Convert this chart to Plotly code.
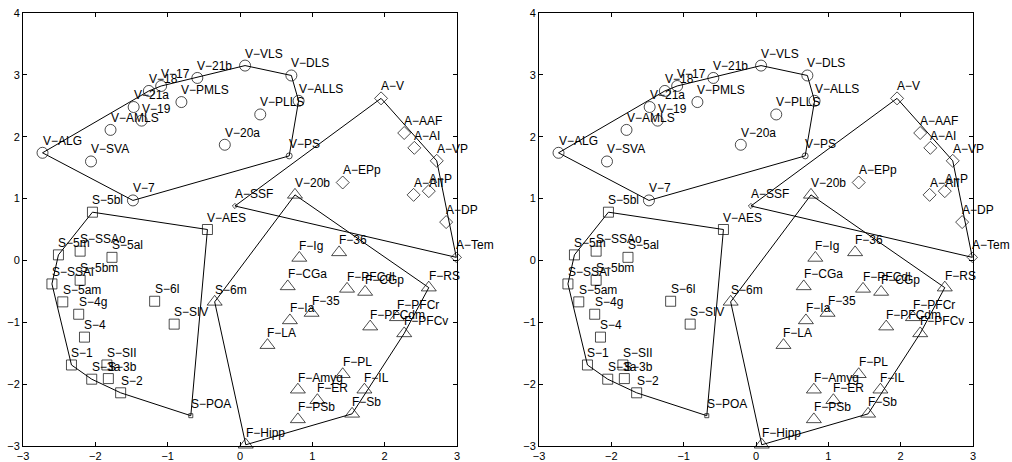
import plotly.graph_objects as go

# ---------------- data ----------------
labels = [
    "V-ALG", "V-SVA", "V-AMLS", "V-21a", "V-19", "V-18", "V-17", "V-21b", "V-PMLS", "V-20a",
    "V-VLS", "V-DLS", "V-ALLS", "V-PLLS", "V-PS", "V-7",
    "A-V", "A-AAF", "A-AI", "A-VP", "A-EPp", "A-AII", "A-P", "A-DP", "A-Tem", "A-SSF",
    "S-5bl", "V-AES", "S-5m", "S-SSAo", "S-5al", "S-SSAi", "S-5bm", "S-5am", "S-4g", "S-6l",
    "S-4", "S-SIV", "S-1", "S-SII", "S-3a", "S-3b", "S-2", "S-POA",
    "V-20b", "S-6m", "F-Ig", "F-36", "F-CGa", "F-PFCdl", "F-CGp", "F-RS", "F-35", "F-Ia",
    "F-LA", "F-PFCr", "F-PFCdm", "F-PFCv", "F-PL", "F-Amyg", "F-ER", "F-IL", "F-Sb", "F-PSb",
    "F-Hipp",
]
x_vals = [
    -2.73, -2.06, -1.79, -1.47, -1.36, -1.26, -1.09, -0.59, -0.81, -0.21,
    0.07, 0.71, 0.81, 0.28, 0.68, -1.48,
    1.95, 2.27, 2.41, 2.72, 1.42, 2.40, 2.61, 2.85, 2.99, -0.07,
    -2.04, -0.45, -2.51, -2.21, -1.77, -2.60, -2.21, -2.45, -2.23, -1.18,
    -2.15, -0.91, -2.33, -1.84, -2.05, -1.82, -1.65, -0.68,
    0.76, -0.35, 0.82, 1.37, 0.66, 1.48, 1.73, 2.61, 0.99, 0.69,
    0.38, 2.17, 1.80, 2.27, 1.42, 0.80, 1.07, 1.72, 1.55, 0.80,
    0.08,
]
y_vals = [
    1.74, 1.60, 2.11, 2.48, 2.26, 2.74, 2.82, 2.95, 2.56, 1.87,
    3.15, 2.99, 2.58, 2.36, 1.69, 0.97,
    2.62, 2.06, 1.82, 1.61, 1.26, 1.06, 1.12, 0.62, 0.05, 0.88,
    0.78, 0.50, 0.09, 0.15, 0.05, -0.38, -0.32, -0.67, -0.87, -0.66,
    -1.24, -1.03, -1.69, -1.69, -1.92, -1.91, -2.14, -2.51,
    1.06, -0.67, 0.04, 0.13, -0.42, -0.46, -0.51, -0.44, -0.85, -0.97,
    -1.37, -0.92, -1.07, -1.18, -1.84, -2.09, -2.26, -2.09, -2.48, -2.57,
    -2.98,
]
clusters = (["V"] * 16) + (["A"] * 10) + (["S"] * 18) + (["F"] * 21)

x_ticks = [-3, -2, -1, 0, 1, 2, 3]
y_ticks = [-3, -2, -1, 0, 1, 2, 3, 4]

# ---------------- styling ----------------
symbol_of = {"V": "circle-open", "A": "diamond-open", "S": "square-open", "F": "triangle-up-open"}
size_of = {"V": 11, "A": 10, "S": 10, "F": 13}
small_markers = {"V-PS": 6, "A-SSF": 4, "S-POA": 4, "A-Tem": 8}
FONT = "Liberation Sans, Arial, Helvetica, sans-serif"


def convex_hull(pts):
    pts = sorted(set(pts))
    if len(pts) < 3:
        return pts

    def cross(o, a, b):
        return (a[0] - o[0]) * (b[1] - o[1]) - (a[1] - o[1]) * (b[0] - o[0])

    lower, upper = [], []
    for p in pts:
        while len(lower) >= 2 and cross(lower[-2], lower[-1], p) <= 0:
            lower.pop()
        lower.append(p)
    for p in reversed(pts):
        while len(upper) >= 2 and cross(upper[-2], upper[-1], p) <= 0:
            upper.pop()
        upper.append(p)
    return lower[:-1] + upper[:-1]


fig = go.Figure()

panels = [("x", "y"), ("x2", "y2")]
for xa, ya in panels:
    # hulls
    for g in ["V", "A", "S", "F"]:
        pts = [(x, y) for x, y, c in zip(x_vals, y_vals, clusters) if c == g]
        h = convex_hull(pts)
        h = h + [h[0]]
        fig.add_trace(go.Scatter(
            x=[p[0] for p in h], y=[p[1] for p in h], mode="lines",
            line=dict(color="black", width=1), xaxis=xa, yaxis=ya,
            showlegend=False, hoverinfo="skip", cliponaxis=False))
    # markers
    for g in ["V", "A", "S", "F"]:
        idx = [i for i, c in enumerate(clusters) if c == g]
        fig.add_trace(go.Scatter(
            x=[x_vals[i] for i in idx], y=[y_vals[i] for i in idx], mode="markers",
            marker=dict(symbol=symbol_of[g],
                        size=[small_markers.get(labels[i], size_of[g]) for i in idx],
                        color="black", line=dict(color="black", width=1)),
            xaxis=xa, yaxis=ya, showlegend=False, cliponaxis=False,
            text=[labels[i] for i in idx]))
    # labels
    for lab, x, y in zip(labels, x_vals, y_vals):
        fig.add_annotation(
            x=x, y=y, xref=xa, yref=ya, text=lab.replace("-", "\u2212"),
            showarrow=False, xanchor="left", yanchor="bottom", xshift=-2, yshift=3,
            font=dict(family=FONT, size=12, color="black"))

axis_common = dict(
    showgrid=False, zeroline=False, showline=True, linecolor="black", linewidth=1,
    mirror="ticks", ticks="inside", ticklen=4, tickcolor="black", tickwidth=1,
    tickfont=dict(family=FONT, size=11, color="black"), automargin=False,
    ticklabeloverflow="allow",
)

fig.update_layout(
    width=1012, height=462,
    margin=dict(l=23, r=39, t=13, b=16),
    paper_bgcolor="white", plot_bgcolor="white",
    showlegend=False,
    xaxis=dict(domain=[0, 434 / 950], range=[-3, 3], tickvals=x_ticks, anchor="y", **axis_common),
    yaxis=dict(domain=[0, 1], range=[-3, 4], tickvals=y_ticks, anchor="x", **axis_common),
    xaxis2=dict(domain=[516 / 950, 1], range=[-3, 3], tickvals=x_ticks, anchor="y2", **axis_common),
    yaxis2=dict(domain=[0, 1], range=[-3, 4], tickvals=y_ticks, anchor="x2", **axis_common),
)

# remove the default 8px page margin so the figure fills the window exactly
fig.write_html("out.html",
               config={"displayModeBar": False},
               post_script="document.body.style.margin='0';document.body.style.overflow='hidden';")
